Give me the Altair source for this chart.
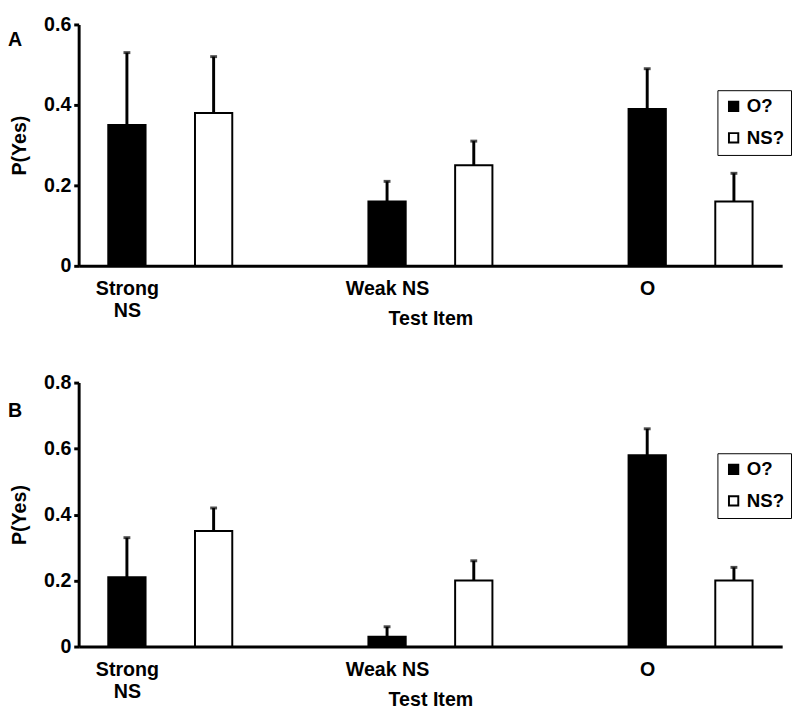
import altair as alt
import pandas as pd

groups = ["Strong NS", "Weak NS", "O"]
questions = ["O?", "NS?"]
a_means = [0.35, 0.38, 0.16, 0.25, 0.39, 0.16]
a_upper = [0.53, 0.52, 0.21, 0.31, 0.49, 0.23]
b_means = [0.21, 0.35, 0.03, 0.20, 0.58, 0.20]
b_upper = [0.33, 0.42, 0.06, 0.26, 0.66, 0.24]
a_ticks = [0, 0.2, 0.4, 0.6]
b_ticks = [0, 0.2, 0.4, 0.6, 0.8]

FONT = "Liberation Sans"


def frame(means, upper):
    rows = []
    for gi, g in enumerate(groups):
        for qi, q in enumerate(questions):
            i = gi * 2 + qi
            rows.append({"group": g, "question": q, "slot": gi * 3 + qi,
                         "mean": means[i], "upper": upper[i]})
    return pd.DataFrame(rows)


def panel(means, upper, ticks, letter, height, legend_y, letter_y):
    df = frame(means, upper)
    xscale = alt.Scale(domain=[-0.5, 7.5], nice=False, zero=False)
    yscale = alt.Scale(domain=[0, ticks[-1]], nice=False)
    xaxis = alt.Axis(
        values=[0, 3, 6],
        labelExpr="datum.value == 0 ? ['Strong','NS'] : datum.value == 3 ? 'Weak NS' : 'O'",
        ticks=False, grid=False, domainWidth=3, domainColor="black",
        labelFont=FONT, labelFontSize=20, labelFontWeight="bold", labelColor="black",
        labelPadding=13, labelLineHeight=23, labelAlign="center",
        title="Test Item", titleFont=FONT, titleFontSize=20, titleFontWeight="bold",
        titleColor="black", titleY=44, titleBaseline="top",
    )
    yaxis = alt.Axis(
        values=ticks,
        labelExpr="datum.value == 0 ? '0' : format(datum.value, '.1f')",
        grid=False, domainWidth=3, domainColor="black", tickWidth=3, tickSize=5,
        tickColor="black", labelFont=FONT, labelFontSize=20, labelFontWeight="bold",
        labelColor="black", labelPadding=3,
        title="P(Yes)", titleFont=FONT, titleFontSize=20, titleFontWeight="bold",
        titleColor="black", titlePadding=14,
    )
    legend_opts = dict(
        orient="none", legendX=651, legendY=legend_y,
        strokeColor="black", padding=7,
        symbolType="square", symbolSize=90,
        symbolStrokeColor="black", symbolStrokeWidth=2,
        labelFont=FONT, labelFontSize=19, labelFontWeight="bold",
        labelColor="black", labelOffset=4, rowPadding=12,
    )
    base = alt.Chart(df)
    bars = base.mark_bar(size=38, stroke="black", strokeWidth=2, orient="vertical").encode(
        x=alt.X("slot:Q", scale=xscale, axis=xaxis),
        y=alt.Y("mean:Q", scale=yscale, axis=yaxis, stack=None),
        fill=alt.Fill(
            "question:N", title=None,
            scale=alt.Scale(domain=questions, range=["black", "white"]),
            legend=alt.Legend(**legend_opts),
        ),
    )
    whisk = base.mark_rule(strokeWidth=3, color="black").encode(
        x=alt.X("slot:Q", scale=xscale),
        y=alt.Y("mean:Q", scale=yscale),
        y2="upper:Q",
    )
    cap = base.mark_tick(orient="horizontal", size=7, thickness=3, color="black").encode(
        x=alt.X("slot:Q", scale=xscale),
        y=alt.Y("upper:Q", scale=yscale),
    )
    lab = alt.Chart(pd.DataFrame({"t": [letter]})).mark_text(
        align="left", baseline="middle", font=FONT, fontSize=20, fontWeight="bold",
        color="black",
    ).encode(x=alt.value(-72), y=alt.value(letter_y), text="t:N")
    return alt.layer(bars, whisk, cap, lab).properties(width=717, height=height)


pa = panel(a_means, a_upper, a_ticks, "A", 246, 67, 16)
pb = panel(b_means, b_upper, b_ticks, "B", 269, 72, 29)
chart = alt.vconcat(pa, pb, spacing=45).resolve_legend(fill="independent").resolve_scale(
    fill="independent"
).properties(padding=0, background="white").configure_view(strokeWidth=0)

chart.save("out.html", embed_options={"renderer": "svg", "actions": False})
